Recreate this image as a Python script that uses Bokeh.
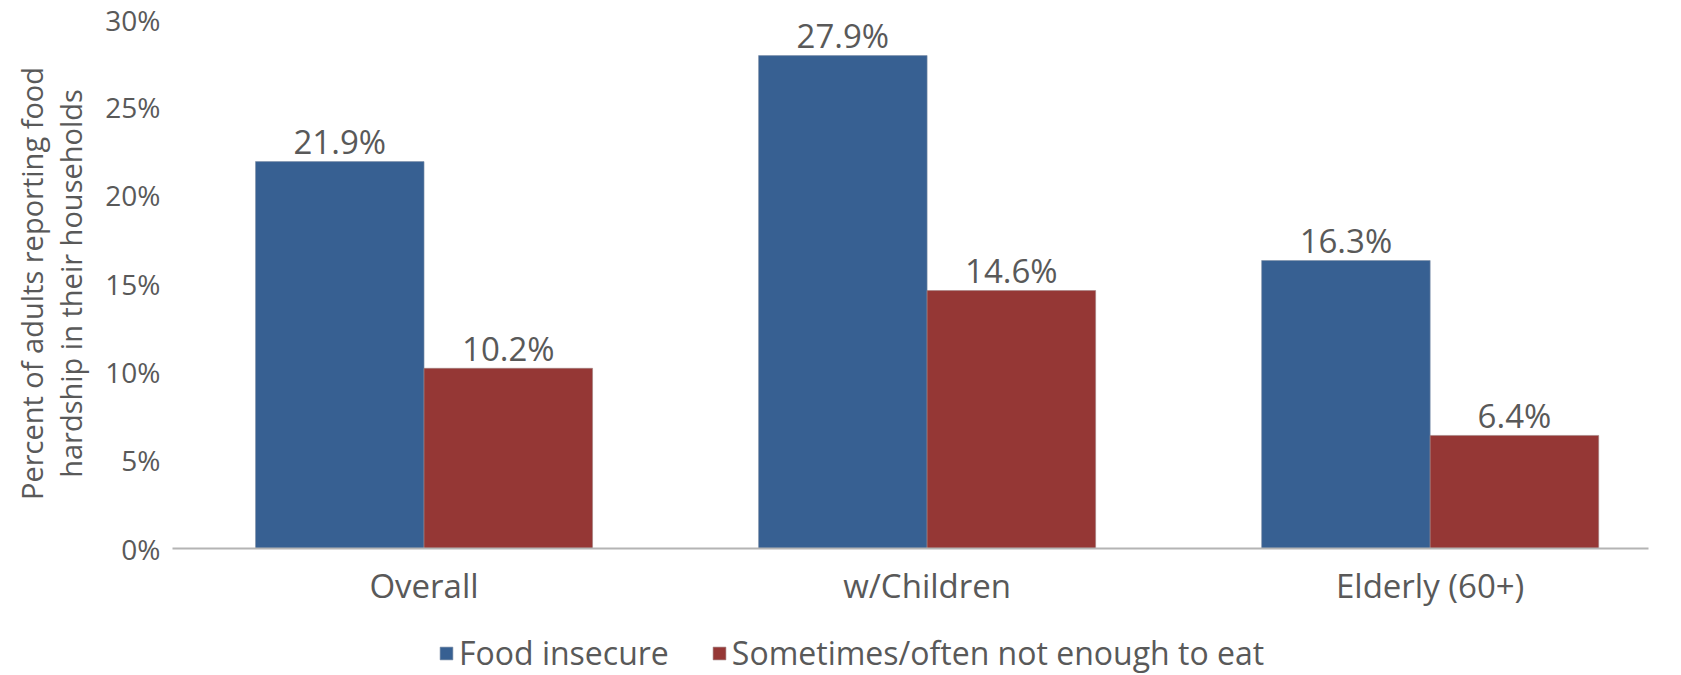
from bokeh.plotting import figure
from bokeh.layouts import column
from bokeh.models import Range1d, FixedTicker, Legend, LegendItem, ColumnDataSource
from bokeh.core.properties import value
from bokeh.embed import file_html
from bokeh.resources import INLINE

categories = ["Overall", "w/Children", "Elderly (60+)"]
food_insecure = [21.9, 27.9, 16.3]
not_enough = [10.2, 14.6, 6.4]
series_names = ["Food insecure", "Sometimes/often not enough to eat"]
y_ticks = [0, 5, 10, 15, 20, 25, 30]

BLUE = "#376092"
RED = "#953735"
TXT = "#595959"
FONT = "Open Sans"

centers = [i + 0.5 for i in range(len(categories))]
bw = 0.335
off = bw / 2

p = figure(frame_width=1476, frame_height=530, output_backend="svg", toolbar_location=None,
           x_range=Range1d(0, 2.934), y_range=Range1d(0, 30),
           min_border_left=172, min_border_right=33, min_border_top=18, min_border_bottom=81)
p.outline_line_color = None
p.grid.grid_line_color = None
p.background_fill_color = "white"

src_a = ColumnDataSource(dict(x=[c - off for c in centers], top=food_insecure,
                              lab=[f"{v:.1f}%" for v in food_insecure]))
src_b = ColumnDataSource(dict(x=[c + off for c in centers], top=not_enough,
                              lab=[f"{v:.1f}%" for v in not_enough]))

bar_a = dict(fill_color=BLUE, line_color="#7f8fa6", line_width=1, line_alpha=0.6)
bar_b = dict(fill_color=RED, line_color="#a08080", line_width=1, line_alpha=0.6)
p.vbar(x="x", top="top", width=bw, source=src_a, **bar_a)
p.vbar(x="x", top="top", width=bw, source=src_b, **bar_b)

for s in (src_a, src_b):
    p.text(x="x", y="top", text="lab", source=s, text_align="center", text_baseline="alphabetic",
           y_offset=-20, text_font=value(FONT), text_font_size="33px", text_color=TXT)

# x axis
p.xaxis.ticker = FixedTicker(ticks=centers)
p.xaxis.major_label_overrides = {c: n for c, n in zip(centers, categories)}
p.xaxis.major_tick_line_color = None
p.xaxis.major_tick_out = 0
p.xaxis.minor_tick_line_color = None
p.xaxis.axis_line_color = "#b4b4b4"
p.xaxis.axis_line_width = 2
p.xaxis.major_label_text_font = FONT
p.xaxis.major_label_text_font_size = "33px"
p.xaxis.major_label_text_color = TXT
p.xaxis.major_label_standoff = 14

# y axis
p.yaxis.ticker = FixedTicker(ticks=y_ticks)
p.yaxis.major_label_overrides = {t: f"{t}%" for t in y_ticks}
p.yaxis.major_tick_line_color = None
p.yaxis.major_tick_out = 0
p.yaxis.minor_tick_line_color = None
p.yaxis.axis_line_color = None
p.yaxis.major_label_text_font = FONT
p.yaxis.major_label_text_font_size = "28px"
p.yaxis.major_label_text_color = TXT
p.yaxis.major_label_standoff = 12
p.yaxis.axis_label = "Percent of adults reporting food\nhardship in their households"
p.yaxis.axis_label_text_font = FONT
p.yaxis.axis_label_text_font_size = "29px"
p.yaxis.axis_label_text_font_style = "normal"
p.yaxis.axis_label_text_color = TXT
p.yaxis.axis_label_text_line_height = 1.0
p.yaxis.axis_label_standoff = 12

# legend strip (separate figure so the legend is not clipped); frame aligned with the chart's
lg = figure(width=1681, height=46, output_backend="svg", toolbar_location=None,
            x_axis_type=None, y_axis_type=None,
            min_border_left=172, min_border_right=33, min_border_top=0, min_border_bottom=0,
            x_range=Range1d(0, 1), y_range=Range1d(0, 1))
lg.outline_line_color = None
lg.grid.grid_line_color = None
# legend-only renderers, kept outside the visible range
la = lg.vbar(x=[-1], top=[0], width=0.1, **bar_a)
lb = lg.vbar(x=[-1], top=[0], width=0.1, **bar_b)
legend = Legend(items=[LegendItem(label=series_names[0], renderers=[la]),
                       LegendItem(label=series_names[1], renderers=[lb])],
                location=(266, 1), orientation="horizontal",
                padding=0, margin=0, spacing=42, label_standoff=5,
                glyph_width=16, glyph_height=16, label_height=40,
                label_text_font=FONT, label_text_font_size="32px", label_text_color=TXT,
                border_line_color=None, background_fill_alpha=0)
lg.add_layout(legend, "center")

layout = column(p, lg, spacing=0)
open("out.html", "w").write(file_html(layout, INLINE))
